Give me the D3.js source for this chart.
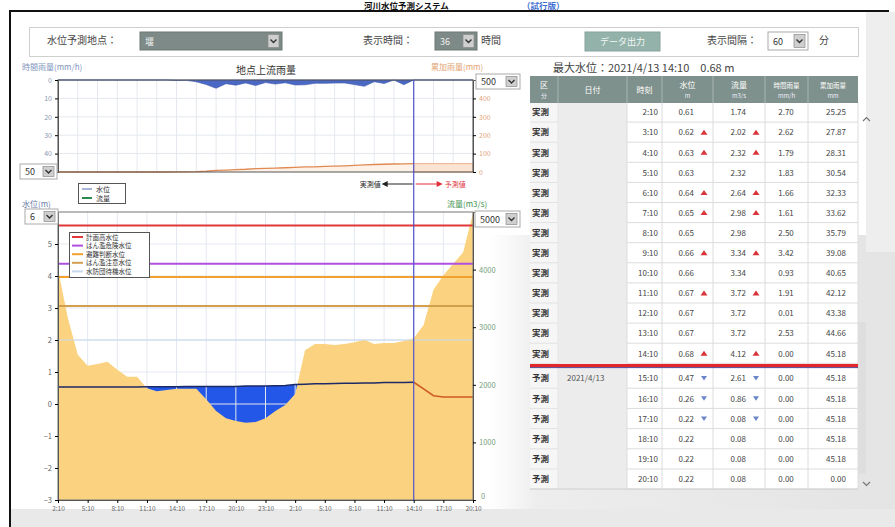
<!DOCTYPE html>
<html>
<head>
<meta charset="utf-8">
<script src="https://cdn.jsdelivr.net/npm/d3@7"></script>
<style>
  body { margin: 0; background: #fff; }
  svg text { font-family: "Noto Sans CJK JP", "Noto Sans", sans-serif; }
</style>
</head>
<body>
<div id="g-container"></div>
<script>
	// ---- data ----
	var startTime = new Date(2021, 3, 12, 2, 10)   // 4/12 2:10, one point per hour
	var nowIndex = 36                               // 4/13 14:10
	var xTickLabels = ["2:10","5:10","8:10","11:10","14:10","17:10","20:10","23:10","2:10","5:10","8:10","11:10","14:10","17:10","20:10"]

	// water level (m), hourly
	var level = [0.53,0.53,0.53,0.53,0.53,0.53,0.53,0.53,0.53,0.54,0.54,0.54,0.54,0.55,0.55,0.55,0.55,0.55,0.55,0.56,0.56,0.56,0.57,0.58,
		0.61,0.62,0.63,0.63,0.64,0.65,0.65,0.66,0.66,0.67,0.67,0.67,0.68,
		0.47,0.26,0.22,0.22,0.22,0.22]
	// flow (m3/s), hourly
	var flow = [4000,3160,2520,2330,2360,2400,2260,2140,2140,1940,1890,1910,1930,1930,1930,1750,1545,1420,1370,1340,1355,1420,1545,1650,
		1840,2600,2710,2710,2690,2710,2740,2780,2710,2725,2725,2760,2810,
		3040,3650,3900,4100,4300,4980]
	// hourly rainfall (mm/h)
	var rain = [0,0,0,0,0,0,0,0,0,0,0,0,0.3,0.2,1.0,2.5,4.5,2.0,2.8,1.6,3.0,1.4,2.2,1.5,
		2.70,2.62,1.79,1.83,1.66,1.61,2.50,3.42,0.93,1.91,0.01,2.53,0.00,
		0,0,0,0,0,0]
	// cumulative rainfall (mm)
	var cumRain = [0,0,0,0,0,0,0,0,0,0,0,0,0.3,0.5,1.5,4.0,8.5,10.5,13.3,14.9,17.9,19.3,21.5,23.0,
		25.25,27.87,28.31,30.54,32.33,33.62,35.79,39.08,40.65,42.12,43.38,44.66,45.18,
		45.18,45.18,45.18,45.18,45.18,45.18]

	// warning levels (m)
	var refNames = ["計画高水位","はん濫危険水位","避難判断水位","はん濫注意水位","水防団待機水位"]
	var refLevels = [5.58, 4.38, 3.97, 3.06, 2.0]
	var refColors = ["#e0383a","#b050e0","#f3a12e","#d2a04c","#c6d8ec"]

	// table
	var tblTimes = ["2:10","3:10","4:10","5:10","6:10","7:10","8:10","9:10","10:10","11:10","12:10","13:10","14:10","15:10","16:10","17:10","18:10","19:10","20:10"]
	var tblKind = ["実測","実測","実測","実測","実測","実測","実測","実測","実測","実測","実測","実測","実測","予測","予測","予測","予測","予測","予測"]
	var tblDate = ["","","","","","","","","","","","","","2021/4/13","","","","",""]
	var tblLevel = ["0.61","0.62","0.63","0.63","0.64","0.65","0.65","0.66","0.66","0.67","0.67","0.67","0.68","0.47","0.26","0.22","0.22","0.22","0.22"]
	var tblLevelTrend = ["","u","u","","u","u","","u","","u","","","u","d","d","d","","",""]
	var tblFlow = ["1.74","2.02","2.32","2.32","2.64","2.98","2.98","3.34","3.34","3.72","3.72","3.72","4.12","2.61","0.86","0.08","0.08","0.08","0.08"]
	var tblFlowTrend = ["","u","u","","u","u","","u","","u","","","u","d","d","d","","",""]
	var tblRain = ["2.70","2.62","1.79","1.83","1.66","1.61","2.50","3.42","0.93","1.91","0.01","2.53","0.00","0.00","0.00","0.00","0.00","0.00","0.00"]
	var tblCum = ["25.25","27.87","28.31","30.54","32.33","33.62","35.79","39.08","40.65","42.12","43.38","44.66","45.18","45.18","45.18","45.18","45.18","45.18","0.00"]

	var times = level.map(function(d, i){ return new Date(startTime.getTime() + i * 3600e3) })

	// ---- page ----
	var W = 895, H = 527
	var svg = d3.select("#g-container").append("svg").attr("width", W).attr("height", H)

	var defs = svg.append("defs")
	var bg = defs.append("linearGradient").attr("id", "bgGrad").attr("x1", 0).attr("x2", 1).attr("y1", 0).attr("y2", 0)
	bg.append("stop").attr("offset", "0%").attr("stop-color", "#ffffff")
	bg.append("stop").attr("offset", "12%").attr("stop-color", "#ededed")
	bg.append("stop").attr("offset", "100%").attr("stop-color", "#e4e4e4")

	svg.append("rect").attr("x", 0).attr("y", 0).attr("width", W).attr("height", H).attr("fill", "#fff")
	svg.append("rect").attr("x", 490).attr("y", 235).attr("width", 405).attr("height", 292).attr("fill", "url(#bgGrad)")
	svg.append("rect").attr("x", 866).attr("y", 12).attr("width", 29).attr("height", 240).attr("fill", "#eeeeee")
	svg.append("rect").attr("x", 10).attr("y", 509).attr("width", W).attr("height", 18).attr("fill", "#e9e9e9")

	// title
	svg.append("text").attr("x", 364).attr("y", 8.5).text("河川水位予測システム")
		.style("font-size", "8.5px").style("font-weight", "bold").style("fill", "#111")
	svg.append("text").attr("x", 522).attr("y", 8.5).text("（試行版）")
		.style("font-size", "8.5px").style("font-weight", "bold").style("fill", "#3f6fd0")
	svg.append("rect").attr("x", 9).attr("y", 10).attr("width", 880).attr("height", 2).attr("fill", "#111")
	svg.append("rect").attr("x", 9).attr("y", 10).attr("width", 2).attr("height", H).attr("fill", "#111")

	// ---- control bar ----
	function drawSelect(x, y, w, h, label, dark){
		var g = svg.append("g")
		g.append("rect").attr("x", x).attr("y", y).attr("width", w).attr("height", h)
			.attr("fill", dark ? "#7e8a87" : "#fff").attr("stroke", dark ? "#6c7875" : "#aaa")
		g.append("text").attr("x", x + 5).attr("y", y + h / 2 + 3.5).text(label)
			.style("font-size", "9px").style("fill", dark ? "#f0f0f0" : "#333")
		g.append("rect").attr("x", x + w - 14).attr("y", y + 2.5).attr("width", 11).attr("height", h - 5)
			.attr("fill", "#cfcfcf").attr("stroke", "#8a8a8a").attr("stroke-width", 0.7)
		var cx = x + w - 8.5, cy = y + h / 2
		g.append("path").attr("d", "M" + (cx - 3) + "," + (cy - 1.5) + "l3,3l3,-3")
			.attr("stroke", "#333").attr("stroke-width", 1.4).attr("fill", "none")
	}

	svg.append("rect").attr("x", 29.5).attr("y", 27.5).attr("width", 829).attr("height", 29)
		.attr("fill", "#fff").attr("stroke", "#cfcfcf")
	svg.append("text").attr("x", 47).attr("y", 44).text("水位予測地点：").style("font-size", "10px").style("fill", "#444")
	drawSelect(140, 32, 142, 18, "堰", true)
	svg.append("text").attr("x", 363).attr("y", 44).text("表示時間：").style("font-size", "10px").style("fill", "#444")
	drawSelect(435, 32, 42, 18, "36", true)
	svg.append("text").attr("x", 481).attr("y", 44).text("時間").style("font-size", "10px").style("fill", "#444")
	svg.append("rect").attr("x", 585).attr("y", 32).attr("width", 75).attr("height", 19).attr("fill", "#93b2aa").attr("stroke", "#86a39c")
	svg.append("text").attr("x", 622.5).attr("y", 45).attr("text-anchor", "middle").text("データ出力")
		.style("font-size", "9px").style("fill", "#f4f8f6")
	svg.append("text").attr("x", 707).attr("y", 44).text("表示間隔：").style("font-size", "10px").style("fill", "#444")
	drawSelect(768, 32, 40, 18, "60", false)
	svg.append("text").attr("x", 819).attr("y", 44).text("分").style("font-size", "10px").style("fill", "#444")

	// ---- scales ----
	var X0 = 58, X1 = 473
	var x = d3.scaleTime().domain([times[0], times[times.length - 1]]).range([X0, X1])
	var xTicks = times.filter(function(d, i){ return i % 3 === 0 })
	var xGrid2 = times.filter(function(d, i){ return i % 2 === 0 })

	var T0 = 80, T1 = 172
	var yRain = d3.scaleLinear().domain([0, 50]).range([T0, T1])
	var yCum = d3.scaleLinear().domain([0, 500]).range([T1, T0])

	var M0 = 212, M1 = 500
	var yL = d3.scaleLinear().domain([-3, 6]).range([M1, M0])
	var yF = d3.scaleLinear().domain([0, 5000]).range([M1, M0])

	// ---- rain chart ----
	var rainG = svg.append("g")
	rainG.append("rect").attr("x", X0).attr("y", T0).attr("width", X1 - X0).attr("height", T1 - T0).attr("fill", "#fff")
	rainG.selectAll(".vg").data(xGrid2).enter().append("line")
		.attr("x1", function(d){ return x(d) }).attr("x2", function(d){ return x(d) })
		.attr("y1", T0).attr("y2", T1).attr("stroke", "#e4e8ee")
	rainG.selectAll(".hg").data([10, 20, 30, 40]).enter().append("line")
		.attr("x1", X0).attr("x2", X1).attr("y1", function(d){ return yRain(d) }).attr("y2", function(d){ return yRain(d) })
		.attr("stroke", "#e4e8ee")

	rainG.append("path").datum(rain)
		.attr("d", d3.area().x(function(d, i){ return x(times[i]) }).y0(yRain(0)).y1(function(d){ return yRain(d) }))
		.attr("fill", "#4b68c4").attr("stroke", "#3a55aa").attr("stroke-width", 0.6)

	var cumObs = cumRain.slice(0, nowIndex + 1)
	var cumFc = cumRain.slice(nowIndex)
	rainG.append("path").datum(cumObs)
		.attr("d", d3.area().x(function(d, i){ return x(times[i]) }).y0(yCum(0)).y1(function(d){ return yCum(d) }))
		.attr("fill", "#fdf1e8")
	rainG.append("path").datum(cumObs)
		.attr("d", d3.line().x(function(d, i){ return x(times[i]) }).y(function(d){ return yCum(d) }))
		.attr("fill", "none").attr("stroke", "#e08a52").attr("stroke-width", 1.3)
	rainG.append("path").datum(cumFc)
		.attr("d", d3.area().x(function(d, i){ return x(times[i + nowIndex]) }).y0(yCum(0)).y1(function(d){ return yCum(d) }))
		.attr("fill", "#fbe4d2").attr("stroke", "#eab08a").attr("stroke-width", 1)

	rainG.append("rect").attr("x", X0).attr("y", T0).attr("width", X1 - X0).attr("height", T1 - T0)
		.attr("fill", "none").attr("stroke", "#555")

	var rainAxL = rainG.append("g").attr("transform", "translate(" + X0 + ",0)")
		.call(d3.axisLeft(yRain).tickValues([0, 10, 20, 30, 40]).tickSize(3))
	rainAxL.select(".domain").attr("stroke", "#555")
	rainAxL.selectAll("text").style("font-size", "7px").style("fill", "#8a96b0")
	var rainAxR = rainG.append("g").attr("transform", "translate(" + X1 + ",0)")
		.call(d3.axisRight(yCum).tickValues([0, 100, 200, 300, 400]).tickSize(3))
	rainAxR.select(".domain").attr("stroke", "#555")
	rainAxR.selectAll("text").style("font-size", "7px").style("fill", "#e2a47a")

	svg.append("text").attr("x", 22).attr("y", 70).text("時間雨量(mm/h)").style("font-size", "8px").style("fill", "#7f95bd")
	svg.append("text").attr("x", 266).attr("y", 74).attr("text-anchor", "middle").text("地点上流雨量").style("font-size", "10px").style("fill", "#333")
	svg.append("text").attr("x", 431).attr("y", 70).text("累加雨量(mm)").style("font-size", "8px").style("fill", "#e3a272")
	drawSelect(20, 164, 37, 15, "50", false)
	drawSelect(476, 74, 44, 15, "500", false)

	// ---- water level / flow chart ----
	var mainG = svg.append("g")
	mainG.append("rect").attr("x", X0).attr("y", M0).attr("width", X1 - X0).attr("height", M1 - M0).attr("fill", "#fff")

	mainG.append("path").datum(level)
		.attr("d", d3.area().x(function(d, i){ return x(times[i]) }).y0(yL(-3)).y1(function(d){ return yL(d) }))
		.attr("fill", "#2257e8")

	mainG.selectAll(".vg").data(xTicks).enter().append("line")
		.attr("x1", function(d){ return x(d) }).attr("x2", function(d){ return x(d) })
		.attr("y1", M0).attr("y2", M1).attr("stroke", "#e3e8f0")
	mainG.selectAll(".hg").data([-2, -1, 0, 1, 2, 3, 4, 5]).enter().append("line")
		.attr("x1", X0).attr("x2", X1).attr("y1", function(d){ return yL(d) }).attr("y2", function(d){ return yL(d) })
		.attr("stroke", "#e3e8f0")

	mainG.append("path").datum(flow)
		.attr("d", d3.area().x(function(d, i){ return x(times[i]) }).y0(yF(0)).y1(function(d){ return yF(d) }))
		.attr("fill", "#fbd380")

	mainG.selectAll(".ref").data(refLevels).enter().append("line")
		.attr("x1", X0).attr("x2", X1)
		.attr("y1", function(d){ return yL(d) }).attr("y2", function(d){ return yL(d) })
		.attr("stroke", function(d, i){ return refColors[i] })
		.attr("stroke-width", function(d, i){ return i == 4 ? 1 : 2 })

	var lvlObs = level.slice(0, nowIndex + 1)
	var lvlFc = level.slice(nowIndex)
	mainG.append("path").datum(lvlObs)
		.attr("d", d3.line().x(function(d, i){ return x(times[i]) }).y(function(d){ return yL(d) }))
		.attr("fill", "none").attr("stroke", "#1d2a66").attr("stroke-width", 1.5)
	mainG.append("path").datum(lvlFc)
		.attr("d", d3.line().x(function(d, i){ return x(times[i + nowIndex]) }).y(function(d){ return yL(d) }))
		.attr("fill", "none").attr("stroke", "#cf5a22").attr("stroke-width", 1.6)

	mainG.append("rect").attr("x", X0).attr("y", M0).attr("width", X1 - X0).attr("height", M1 - M0)
		.attr("fill", "none").attr("stroke", "#777")

	var la = mainG.append("g").attr("transform", "translate(" + X0 + ",0)")
		.call(d3.axisLeft(yL).tickValues([-3, -2, -1, 0, 1, 2, 3, 4, 5]).tickSize(3))
	la.select(".domain").attr("stroke", "#555")
	la.selectAll("text").style("font-size", "7.5px").style("fill", "#666")
	var ra = mainG.append("g").attr("transform", "translate(" + X1 + ",0)")
		.call(d3.axisRight(yF).tickValues([0, 1000, 2000, 3000, 4000]).tickSize(3).tickFormat(d3.format("d")))
	ra.select(".domain").attr("stroke", "#555")
	ra.selectAll("text").style("font-size", "7.5px").style("fill", "#77a07e")
	ra.selectAll(".tick").filter(function(d){ return d === 0 }).select("text").attr("dy", "-0.2em").attr("x", 8)
	var xa = mainG.append("g").attr("transform", "translate(0," + M1 + ")")
		.call(d3.axisBottom(x).tickValues(xTicks).tickSize(3).tickFormat(function(d, i){ return xTickLabels[i] }))
	xa.select(".domain").attr("stroke", "#555")
	xa.selectAll("text").style("font-size", "6.5px").style("fill", "#666")

	// current time
	svg.append("line").attr("x1", x(times[nowIndex])).attr("x2", x(times[nowIndex]))
		.attr("y1", T0).attr("y2", M1).attr("stroke", "#5252cc").attr("stroke-width", 1.2)

	svg.append("text").attr("x", 22).attr("y", 207).text("水位(m)").style("font-size", "8px").style("fill", "#6a7da8")
	svg.append("text").attr("x", 447).attr("y", 207).text("流量(m3/s)").style("font-size", "8px").style("fill", "#3e9150")
	drawSelect(25, 209, 33, 15, "6", false)
	drawSelect(475, 211, 45, 16, "5000", false)

	// observed / forecast markers
	var nx = x(times[nowIndex])
	svg.append("text").attr("x", nx - 33).attr("y", 187).attr("text-anchor", "end").text("実測値").style("font-size", "7px").style("fill", "#222")
	svg.append("path").attr("d", "M" + (nx - 32) + ",184 l6,-3 v6 z").attr("fill", "#222")
	svg.append("line").attr("x1", nx - 27).attr("x2", nx - 1).attr("y1", 184).attr("y2", 184).attr("stroke", "#222")
	svg.append("line").attr("x1", nx + 2).attr("x2", nx + 24).attr("y1", 184).attr("y2", 184).attr("stroke", "#e0303a")
	svg.append("path").attr("d", "M" + (nx + 29) + ",184 l-6,-3 v6 z").attr("fill", "#e0303a")
	svg.append("text").attr("x", nx + 31).attr("y", 187).text("予測値").style("font-size", "7px").style("fill", "#e0303a")

	// legends
	var lg1 = svg.append("g")
	lg1.append("rect").attr("x", 78.5).attr("y", 183.5).attr("width", 47).attr("height", 20).attr("fill", "#fff").attr("stroke", "#555")
	lg1.append("line").attr("x1", 82).attr("x2", 92).attr("y1", 189).attr("y2", 189).attr("stroke", "#a7b4d6").attr("stroke-width", 2)
	lg1.append("text").attr("x", 96).attr("y", 192).text("水位").style("font-size", "7px").style("fill", "#333")
	lg1.append("line").attr("x1", 82).attr("x2", 92).attr("y1", 198).attr("y2", 198).attr("stroke", "#2c8a4c").attr("stroke-width", 2)
	lg1.append("text").attr("x", 96).attr("y", 201).text("流量").style("font-size", "7px").style("fill", "#333")

	var lg2 = svg.append("g")
	lg2.append("rect").attr("x", 69.5).attr("y", 232.5).attr("width", 80).attr("height", 45).attr("fill", "#fff").attr("stroke", "#555")
	lg2.selectAll(".it").data(refNames).enter().append("line")
		.attr("x1", 72).attr("x2", 83)
		.attr("y1", function(d, i){ return 237 + i * 8.6 }).attr("y2", function(d, i){ return 237 + i * 8.6 })
		.attr("stroke", function(d, i){ return refColors[i] }).attr("stroke-width", 2)
	lg2.selectAll(".tx").data(refNames).enter().append("text")
		.attr("x", 86).attr("y", function(d, i){ return 239.5 + i * 8.6 })
		.text(function(d){ return d }).style("font-size", "6.5px").style("fill", "#333")

	// ---- table ----
	svg.append("text").attr("x", 553).attr("y", 72)
		.text("最大水位：2021/4/13 14:10　0.68 m").style("font-size", "11px").style("fill", "#444")

	var colX = [530, 558, 627, 662, 713, 765, 808, 858]
	var tbl = svg.append("g")

	function rowTop(i){ return i < 13 ? 102 + i * 20.1 : 368 + (i - 13) * 20.2 }
	function rowH(i){ return i < 13 ? 20.1 : 20.2 }

	// column backgrounds
	tbl.append("rect").attr("x", colX[0]).attr("y", 102).attr("width", colX[1] - colX[0]).attr("height", 387).attr("fill", "#f6f6f6")
	tbl.append("rect").attr("x", colX[1]).attr("y", 102).attr("width", colX[2] - colX[1]).attr("height", 387).attr("fill", "#ececec")
	tbl.append("rect").attr("x", colX[2]).attr("y", 102).attr("width", colX[7] - colX[2]).attr("height", 387).attr("fill", "#fff")

	var rows = tbl.selectAll(".row").data(tblTimes).enter().append("g")
	rows.append("line").attr("x1", colX[0]).attr("x2", colX[1])
		.attr("y1", function(d, i){ return rowTop(i) + rowH(i) }).attr("y2", function(d, i){ return rowTop(i) + rowH(i) })
		.attr("stroke", "#e2e2e2")
	rows.append("line").attr("x1", colX[2]).attr("x2", colX[7])
		.attr("y1", function(d, i){ return rowTop(i) + rowH(i) }).attr("y2", function(d, i){ return rowTop(i) + rowH(i) })
		.attr("stroke", "#dcdcdc")
	tbl.selectAll(".vl").data(colX.slice(2)).enter().append("line")
		.attr("x1", function(d){ return d }).attr("x2", function(d){ return d })
		.attr("y1", 102).attr("y2", 489).attr("stroke", "#dcdcdc")
	tbl.append("line").attr("x1", colX[1]).attr("x2", colX[1]).attr("y1", 102).attr("y2", 489).attr("stroke", "#e6e6e6")

	function cy(i){ return rowTop(i) + rowH(i) / 2 + 3.3 }
	rows.append("text").attr("x", 532).attr("y", function(d, i){ return cy(i) })
		.text(function(d, i){ return tblKind[i] }).style("font-size", "8.5px").style("font-weight", "bold").style("fill", "#333")
	rows.append("text").attr("x", 567).attr("y", function(d, i){ return cy(i) })
		.text(function(d, i){ return tblDate[i] }).style("font-size", "8px").style("fill", "#555")
	rows.append("text").attr("x", 658).attr("y", function(d, i){ return cy(i) }).attr("text-anchor", "end")
		.text(function(d){ return d }).style("font-size", "8px").style("fill", "#444")
	rows.append("text").attr("x", 694).attr("y", function(d, i){ return cy(i) }).attr("text-anchor", "end")
		.text(function(d, i){ return tblLevel[i] }).style("font-size", "8px").style("fill", "#444")
	rows.append("text").attr("x", 746).attr("y", function(d, i){ return cy(i) }).attr("text-anchor", "end")
		.text(function(d, i){ return tblFlow[i] }).style("font-size", "8px").style("fill", "#444")
	rows.append("text").attr("x", 786).attr("y", function(d, i){ return cy(i) }).attr("text-anchor", "middle")
		.text(function(d, i){ return tblRain[i] }).style("font-size", "8px").style("fill", "#444")
	rows.append("text").attr("x", 846).attr("y", function(d, i){ return cy(i) }).attr("text-anchor", "end")
		.text(function(d, i){ return tblCum[i] }).style("font-size", "8px").style("fill", "#444")

	function trendMark(sel, tx, trends){
		sel.append("path")
			.attr("d", function(d, i){
				var t = trends[i], yc = rowTop(i) + rowH(i) / 2
				if(t == "u"){ return "M" + (tx - 3.5) + "," + (yc + 2.5) + "l3.5,-5l3.5,5z" }
				if(t == "d"){ return "M" + (tx - 3) + "," + (yc - 2) + "l3,4.5l3,-4.5z" }
				return ""
			})
			.attr("fill", function(d, i){ return trends[i] == "u" ? "#d8343a" : "#6a86c8" })
	}
	trendMark(rows, 704, tblLevelTrend)
	trendMark(rows, 756, tblFlowTrend)

	// header
	tbl.append("rect").attr("x", colX[0]).attr("y", 76).attr("width", colX[7] - colX[0]).attr("height", 27).attr("fill", "#7f918c")
	tbl.selectAll(".hs").data(colX.slice(1, 7)).enter().append("line")
		.attr("x1", function(d){ return d }).attr("x2", function(d){ return d }).attr("y1", 76).attr("y2", 103)
		.attr("stroke", "#a9b6b2")
	var heads = [["区","分"],["日付",""],["時刻",""],["水位","m"],["流量","m3/s"],["時間雨量","mm/h"],["累加雨量","mm"]]
	heads.forEach(function(h, i){
		var mx = (colX[i] + colX[i + 1]) / 2
		if(h[1] === ""){
			tbl.append("text").attr("x", mx).attr("y", 93).attr("text-anchor", "middle").text(h[0])
				.style("font-size", "8px").style("fill", "#fff")
		} else {
			tbl.append("text").attr("x", mx).attr("y", 88).attr("text-anchor", "middle").text(h[0])
				.style("font-size", i == 5 || i == 6 ? "6.5px" : "8px").style("fill", "#fff")
			tbl.append("text").attr("x", mx).attr("y", 98).attr("text-anchor", "middle").text(h[1])
				.style("font-size", "6px").style("fill", "#eef")
		}
	})

	// observed / forecast separator
	tbl.append("rect").attr("x", colX[0]).attr("y", 364).attr("width", colX[7] - colX[0]).attr("height", 3.2).attr("fill", "#e2262c")
	tbl.append("rect").attr("x", colX[0]).attr("y", 367.2).attr("width", colX[7] - colX[0]).attr("height", 0.9).attr("fill", "#3a3a8a")
	tbl.append("line").attr("x1", colX[0]).attr("x2", colX[7]).attr("y1", 489).attr("y2", 489).attr("stroke", "#cfcfcf")

	// scrollbar
	tbl.append("rect").attr("x", 858).attr("y", 322).attr("width", 8).attr("height", 152).attr("fill", "#dedede")
	tbl.append("path").attr("d", "M863,121l3.5,-3.5l3.5,3.5").attr("fill", "none").attr("stroke", "#777").attr("stroke-width", 1.2)
	tbl.append("path").attr("d", "M863,482l3.5,3.5l3.5,-3.5").attr("fill", "none").attr("stroke", "#777").attr("stroke-width", 1.2)
</script>
</body>
</html>
